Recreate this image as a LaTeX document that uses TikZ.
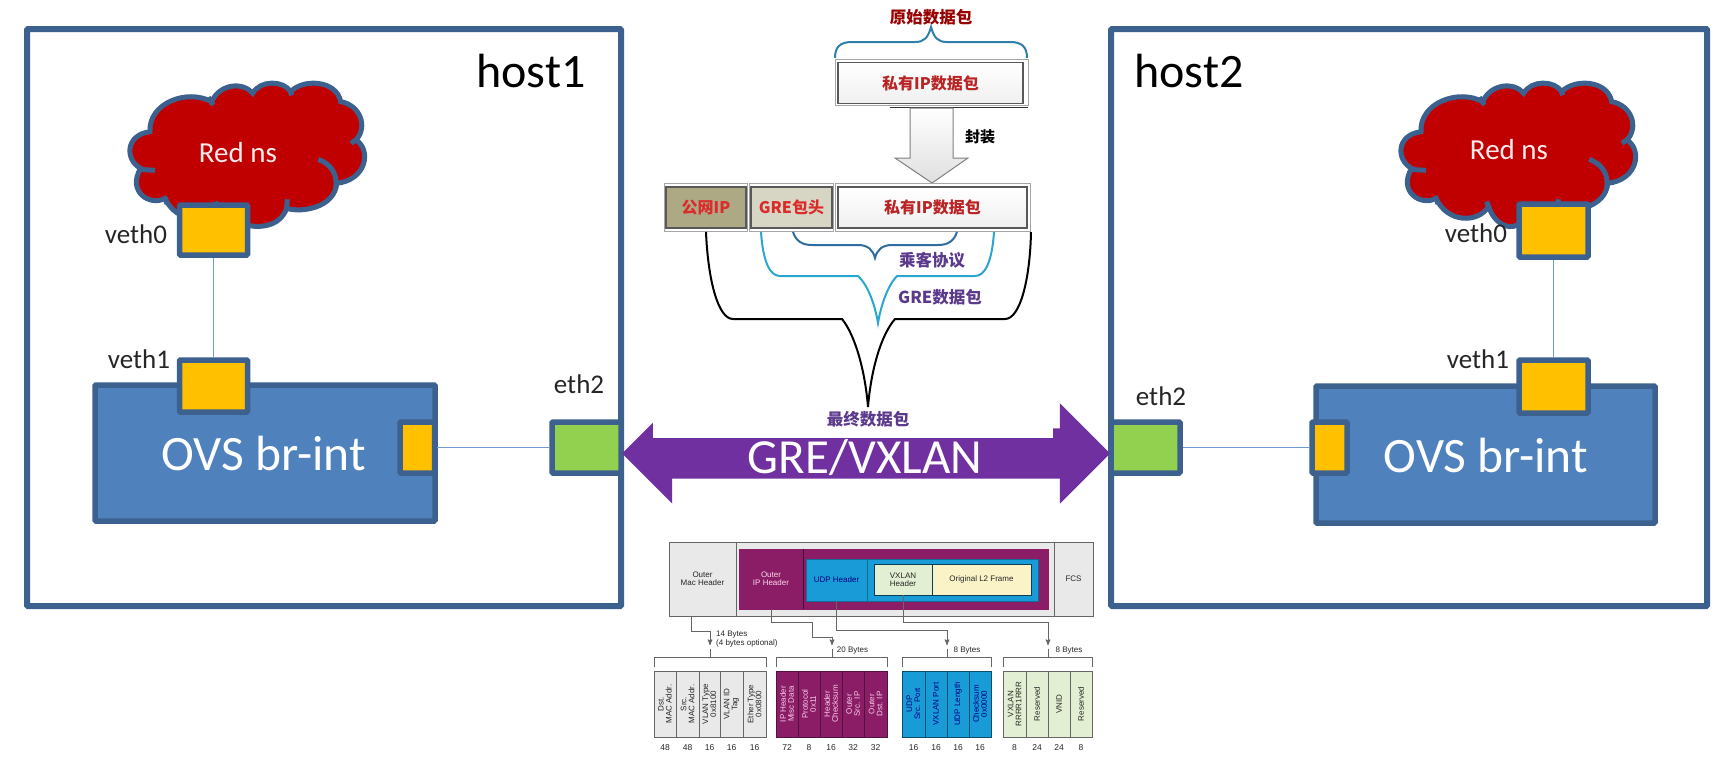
\documentclass[tikz,border=0pt]{standalone}
\usepackage{fontspec}
\setmainfont{Carlito}
\newfontfamily\cjk{Noto Sans CJK SC}
\newfontfamily\tablefont{Liberation Sans}
\usetikzlibrary{arrows,positioning,shapes.arrows}
\definecolor{ovsline}{HTML}{3C618F}
\definecolor{ovsfill}{HTML}{4F81BD}
\definecolor{wire}{HTML}{6F9BD1}
\definecolor{nsred}{HTML}{C00000}
\definecolor{portyellow}{HTML}{FFC000}
\definecolor{portgreen}{HTML}{92D050}
\definecolor{tunnel}{HTML}{7030A0}
\definecolor{hdrgray}{HTML}{E9E9E9}
\definecolor{hdrpurple}{HTML}{8A1D66}
\definecolor{hdrblue}{HTML}{189BD7}
\definecolor{hdrgreen}{HTML}{E3EFD2}
\definecolor{hdryellow}{HTML}{FBF3C8}
\definecolor{pktred}{HTML}{DB2B2B}
\definecolor{pktpurple}{HTML}{5B3A8C}
\definecolor{bracetop}{HTML}{2F7FA8}
\definecolor{bracemid}{HTML}{2F6C9F}
\definecolor{bracegre}{HTML}{2BA6CF}
\newcommand{\fs}[1]{\fontsize{#1}{#1}\selectfont}
\tikzset{
  hostbox/.style={draw=ovsline,line width=6pt,fill=white,rounded corners=1pt,anchor=north west,inner sep=0pt,outer sep=0pt},
  ovsbox/.style={draw=ovsline,line width=5.5pt,fill=ovsfill,rounded corners=1pt,inner sep=0pt},
  portbox/.style={ovsbox,fill=portyellow},
  ethbox/.style={ovsbox,fill=portgreen},
  wireline/.style={draw=wire,line width=1.5pt},
  hostname/.style={font=\fs{48},anchor=base},
  portname/.style={font=\fs{27},text=black!85},
  ovsname/.style={font=\fs{49.5},text=white,anchor=base},
  pktframe/.style={draw=gray!70,line width=1pt,fill=white,inner sep=0pt},
  pktcell/.style={draw=gray!70!black,line width=1.2pt,inner sep=0pt,minimum height=41pt,font=\cjk\bfseries\fs{16},text=pktred},
  pktlabel/.style={font=\cjk\bfseries\fs{16.5},text=pktpurple},
  hdr/.style={draw=gray!80!black,line width=.8pt,inner sep=0pt,font=\tablefont\fs{8},align=center,text=black!85},
  cell/.style={hdr,rotate=90,minimum width=66pt},
  conn/.style={draw=gray!80!black,line width=1pt},
  post/.style={conn,->,>=stealth'},
  bitlabel/.style={font=\tablefont\fs{8.5},text=black!85},
  bytelabel/.style={font=\tablefont\fs{8},text=black!85,align=left},
  pics/redcloud/.style={code={
    \begin{scope}[x=.3333pt,y=-.3333pt,draw=ovsline,line width=5pt]
      \draw[fill=nsred] (212,325) .. controls (165,300) and (165,225) .. (240,215)
        .. controls (235,130) and (350,85) .. (425,125)
        .. controls (450,70) and (520,65) .. (548,100)
        .. controls (570,60) and (640,60) .. (662,95)
        .. controls (700,55) and (800,60) .. (812,125)
        .. controls (870,135) and (895,200) .. (858,240)
        .. controls (905,270) and (890,360) .. (800,370)
        .. controls (795,440) and (700,460) .. (650,445)
        .. controls (630,500) and (570,505) .. (529,495)
        .. controls (500,510) and (460,490) .. (443,440)
        .. controls (410,490) and (320,490) .. (285,415)
        .. controls (240,440) and (170,395) .. (212,325) -- cycle;
      \draw (205,328) -- (255,331);
      \draw (415,112) -- (430,135);
      \draw (660,90) -- (665,106);
      \draw (860,238) -- (843,250);
      \draw (745,298) .. controls (790,315) and (803,350) .. (797,385);
      \draw (650,447) -- (652,418);
      \draw (285,413) -- (291,432);
      \draw (443,440) -- (436,425);
    \end{scope}
  }}
}
\begin{document}
\begin{tikzpicture}[x=1pt,y=-1pt]
  \useasboundingbox (0,0) rectangle (1735,758);

  % hosts
  \node[hostbox,minimum width=594pt,minimum height=577pt] (host1) at (27,29) {};
  \node[hostbox,minimum width=596pt,minimum height=577pt] (host2) at (1111,29) {};
  \node[hostname] (host1name) at (531,87) {host1};
  \node[hostname] (host2name) at (1189,87) {host2};

  % left side
  \pic at (70,60) {redcloud};
  \node[font=\fs{29},text=white!92!red] (ns1) at (238,153) {Red ns};
  \node[ovsbox,minimum width=340pt,minimum height=136pt] (ovs1) at (265,453) {};
  \node[ovsname] (ovs1name) at (264,470) {OVS br-int};
  \node[portbox,minimum width=68pt,minimum height=50pt] (veth0a) at (213.5,230) {};
  \node[portbox,minimum width=68pt,minimum height=52pt] (veth1a) at (213.5,386) {};
  \node[portbox,minimum width=34.5pt,minimum height=51pt] (pa) at (417.3,447.5) {};
  \node[ethbox,minimum width=69pt,minimum height=51pt] (eth2a) at (586.5,447.5) {};
  \node[portname] at (136,234) (veth0aname) {veth0};
  \node[portname] at (139,359) (veth1aname) {veth1};
  \node[portname] at (579,384) (eth2aname) {eth2};
  \draw[wireline] (veth0a)--(veth1a);
  \draw[wireline] (pa)--(eth2a);

  % right side
  \pic at (1341,60) {redcloud};
  \node[font=\fs{29},text=white!92!red] (ns2) at (1509,150) {Red ns};
  \node[ovsbox,minimum width=339pt,minimum height=137pt] (ovs2) at (1485.5,454.5) {};
  \node[ovsname] (ovs2name) at (1486,472) {OVS br-int};
  \node[portbox,minimum width=69pt,minimum height=53pt] (veth0b) at (1553.5,230.5) {};
  \node[portbox,minimum width=69pt,minimum height=53pt] (veth1b) at (1553.5,386.5) {};
  \node[portbox,minimum width=35pt,minimum height=51pt] (pb) at (1329.5,447.5) {};
  \node[ethbox,minimum width=69pt,minimum height=51pt] (eth2b) at (1145.5,447.5) {};
  \node[portname] at (1476,233) (veth0bname) {veth0};
  \node[portname] at (1478,359) (veth1bname) {veth1};
  \node[portname] at (1161,396) (eth2bname) {eth2};
  \draw[wireline] (veth0b)--(veth1b);
  \draw[wireline] (eth2b)--(pb);

  % tunnel arrow, its top is hidden by the white patch
  \node[double arrow,fill=tunnel,inner sep=0pt,minimum height=488pt,minimum width=100pt,
    double arrow head extend=25pt,double arrow tip angle=90] (tunnel) at (866,453.5) {\rule[-25pt]{0pt}{50pt}};
  \node[text=white,font=\fs{49},anchor=base] (tunnelname) at (865,473) {GRE/VXLAN};
  \node[fill=white,inner sep=0pt,minimum width=400pt,minimum height=48pt] (patch) at (853,414) {};

  % packet pictures
  \node[pktframe,minimum width=193pt,minimum height=46pt] (rawframe) at (931.5,82) {};
  \node[pktcell,minimum width=185pt,top color=white,bottom color=gray!12,text=pktred!85!black] (raw) at (930.5,83) {私有IP数据包};
  \draw[black!80,line width=1pt] (890,107) -- (1028,107);
  \node[font=\cjk\bfseries\fs{16.5},text=red!60!black] (rawname) at (931,17) {原始数据包};
  \node[font=\cjk\bfseries\fs{15}] (wrap) at (980,137) {封装};

  \draw[gray,line width=1pt,top color=white,bottom color=gray!25] (910,108) -- (953,108) -- (953,158) -- (968,158)
    -- (932,183) -- (895,158) -- (910,158) -- cycle;

  \node[pktframe,minimum width=83pt,minimum height=48pt] (ipframe) at (705.5,207) {};
  \node[pktframe,minimum width=84pt,minimum height=48pt] (greframe) at (791,207) {};
  \node[pktframe,minimum width=195pt,minimum height=48pt] (privframe) at (932.5,207) {};
  \node[pktcell,minimum width=80pt,fill=black!25!yellow!35!gray!90] (pubip) at (706,207.5) {公网IP};
  \node[pktcell,minimum width=81pt,fill=yellow!20!gray!45] (grehdr) at (791.5,207.5) {GRE包头};
  \node[pktcell,minimum width=189pt,top color=white,bottom color=gray!12,text=pktred!85!black] (priv) at (932.5,207.5) {私有IP数据包};

  \draw[bracetop,line width=2pt] (835,58) .. controls (835,47) and (840,42) .. (852,42) -- (915,42)
    .. controls (924,42) and (928,38) .. (931,27) .. controls (934,38) and (938,42) .. (947,42) -- (1010,42)
    .. controls (1022,42) and (1027,47) .. (1027,58);
  \draw[bracemid,line width=2pt] (793,232) .. controls (796,241) and (802,245) .. (812,245) -- (858,245)
    .. controls (868,245) and (873,250) .. (875,258) .. controls (877,250) and (882,245) .. (892,245) -- (938,245)
    .. controls (948,245) and (954,241) .. (957,232);
  \draw[bracegre,line width=2pt] (761,232) .. controls (763,262) and (770,276) .. (780,276) -- (858,276)
    .. controls (868,285) and (875,305) .. (878,323) .. controls (881,305) and (888,285) .. (897,276) -- (975,276)
    .. controls (985,276) and (992,262) .. (994,232);
  \draw[black,line width=2pt] (706,232) .. controls (708,280) and (718,319) .. (733,319) -- (842,319)
    .. controls (855,335) and (865,370) .. (868,407) .. controls (871,370) and (881,335) .. (895,319) -- (1005,319)
    .. controls (1020,319) and (1030,280) .. (1031,232);
  \node[pktlabel] (passenger) at (932,260) {乘客协议};
  \node[pktlabel] (grepkt) at (940,297) {GRE数据包};
  \node[pktlabel] (finalpkt) at (868,419) {最终数据包};

  % vxlan header
  \node[hdr,fill=hdrgray,minimum width=67pt,minimum height=74pt] (outermac) at (702.5,579) {Outer\\Mac Header};
  \node[hdr,fill=hdrgray,minimum width=318pt,minimum height=74pt] (middle) at (895,579) {};
  \node[hdr,fill=hdrgray,minimum width=39pt,minimum height=74pt] (fcs) at (1073.5,579) {FCS};
  \node[hdr,draw=hdrpurple,fill=hdrpurple,text=white!85!magenta,minimum width=64pt,minimum height=60pt] (outerip) at (771,579) {Outer\\IP Header};
  \node[hdr,draw=hdrpurple,fill=hdrpurple,minimum width=245pt,minimum height=60pt] (ipbody) at (925.5,579) {};
  \draw[black!50!hdrpurple,line width=.8pt] (outerip.north east) -- (outerip.south east);
  \node[hdr,draw=hdrblue!70!black,fill=hdrblue,text=blue!50!black,minimum width=61pt,minimum height=42pt] (udphdr) at (836.5,580) {UDP Header};
  \node[hdr,draw=hdrblue!70!black,fill=hdrblue,minimum width=171pt,minimum height=42pt] (udpbody) at (952.5,580) {};
  \node[hdr,draw=black!60!hdrblue,fill=hdrgreen,minimum width=58pt,minimum height=31pt] (vxlanhdr) at (903,579.5) {VXLAN\\Header};
  \node[hdr,draw=black!60!hdrblue,fill=hdryellow,minimum width=99pt,minimum height=31pt] (l2frame) at (981.5,579.5) {Original L2 Frame};

  % field tables
  \foreach \x/\w/\lab/\n [count=\i] in {665/22/Dst.\\MAC Addr./48,687.5/23/Src.\\MAC Addr./48,709.5/21/VLAN Type\\0x8100/16,
      731.5/23/VLAN ID\\Tag/16,754.5/23/Ether Type\\0x0800/16}{
    \node[cell,fill=hdrgray,minimum height=\w pt] (mac\i) at (\x,704) {\lab};
    \node[bitlabel] (macbits\i) at (\x,748) {\n};
  }
  \foreach \x/\w/\lab/\n [count=\i] in {787/22/IP Header\\Misc Data/72,809/22/Protocol\\0x11/8,831/22/Header\\Checksum/16,
      853/22/Outer\\Src. IP/32,875.5/23/Outer\\Dst. IP/32}{
    \node[cell,draw=black!40!hdrpurple,fill=hdrpurple,text=white!80!magenta,minimum height=\w pt] (ip\i) at (\x,704) {\lab};
    \node[bitlabel] (ipbits\i) at (\x,748) {\n};
  }
  \foreach \x/\w/\lab/\n [count=\i] in {913.5/23/UDP\\Src. Port/16,936/22/VXLAN Port/16,958/22/UDP Length/16,980/22/Checksum\\0x0000/16}{
    \node[cell,draw=black!50!hdrblue,fill=hdrblue,text=blue!50!black,minimum height=\w pt] (udp\i) at (\x,704) {\lab};
    \node[bitlabel] (udpbits\i) at (\x,748) {\n};
  }
  \foreach \x/\w/\lab/\n [count=\i] in {1014.5/23/VXLAN\\RRRR1RRR/8,1037/22/Reserved/24,1059/22/VNID/24,1081/22/Reserved/8}{
    \node[cell,fill=hdrgreen,minimum height=\w pt] (vx\i) at (\x,704) {\lab};
    \node[bitlabel] (vxbits\i) at (\x,748) {\n};
  }

  % brackets over the tables
  \foreach \l/\r/\c/\name in {654/766/710/macb,776/887/832/ipb,902/991/947/udpb,1003/1092/1048/vxb}{
    \coordinate (\name) at (\c,657);
    \coordinate (\name tip) at (\c,645);
    \draw[conn] (\l,667) -- (\l,657) -- (\r,657) -- (\r,667);
    \draw[conn] (\c,649) -- (\name);
  }
  \draw[post] ([xshift=-11.5pt]outermac.south) -- ++(0,15) -| (macbtip);
  \draw[post] (outerip.south) -- ++(0,13) -| (812,637) -| (ipbtip);
  \draw[post] (udphdr.south) -- ++(0,29) -| (udpbtip);
  \draw[post] (vxlanhdr.south) -- ++(0,27) -| (vxbtip);

  \node[bytelabel,anchor=north west,inner sep=0pt] (macbytes) at (716,630.5) {14 Bytes\\[1pt](4 bytes optional)};
  \node[bytelabel] (ipbytes) at (852.5,651) {20 Bytes};
  \node[bytelabel] (udpbytes) at (967,651) {8 Bytes};
  \node[bytelabel] (vxbytes) at (1069,651) {8 Bytes};
\end{tikzpicture}
\end{document}
